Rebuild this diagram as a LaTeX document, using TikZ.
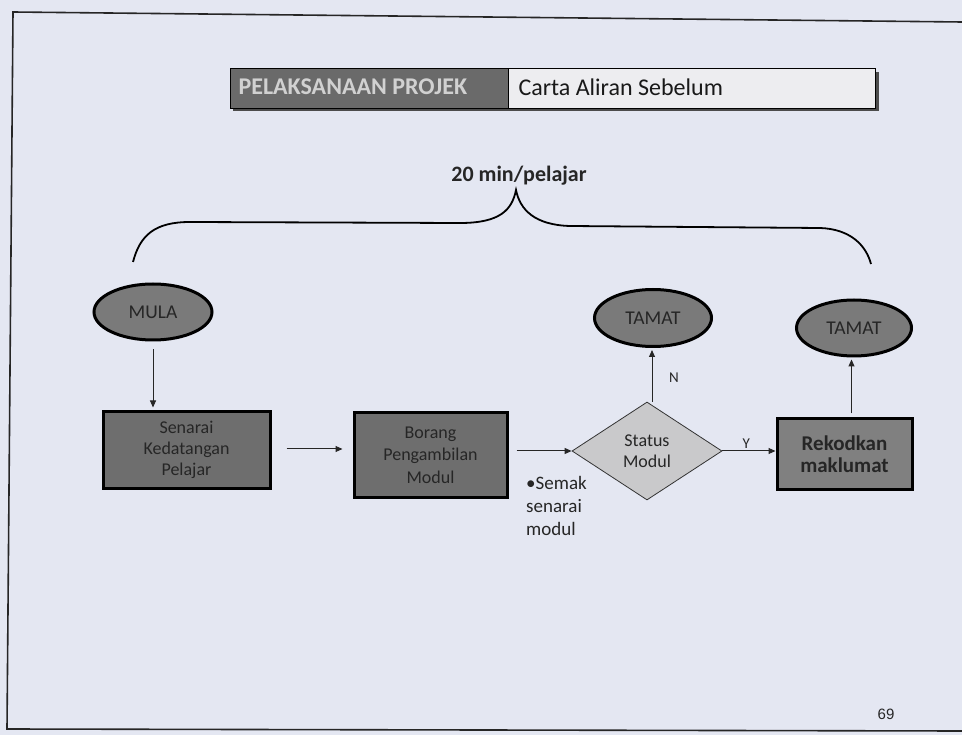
\documentclass[tikz,border=0pt]{standalone}
\usepackage{fontspec}
\setmainfont{Carlito}
\newfontfamily\arialf{Liberation Sans}
\usetikzlibrary{shapes.geometric,arrows.meta}
\definecolor{bgc}{HTML}{E4E7F2}
\definecolor{boxc}{HTML}{6E6E6E}
\definecolor{ellc}{HTML}{7A7A7A}
\definecolor{diac}{HTML}{C9C9CB}
\definecolor{rekc}{HTML}{808080}
\definecolor{txtc}{HTML}{262626}
\definecolor{titled}{HTML}{6A6A6A}
\definecolor{titlel}{HTML}{EDEDF0}
\begin{document}
\begin{tikzpicture}[x=1pt,y=-1pt,
  procbox/.style={draw=black,line width=3pt,fill=boxc,inner sep=0pt,text=txtc,align=center,font=\fontsize{18}{21}\selectfont},
  termell/.style={ellipse,draw=black,line width=3pt,fill=ellc,inner sep=0pt,text=txtc,font=\fontsize{19.5}{21}\selectfont},
  decide/.style={diamond,draw=black!80,line width=0.8pt,fill=diac,inner sep=0pt,text=txtc,align=center,font=\fontsize{18}{21}\selectfont},
  flow/.style={draw=black!85,line width=1pt,-{Triangle[length=7pt,width=6pt]}},
  lbl/.style={text=txtc,font=\fontsize{15}{17}\selectfont}
]
\useasboundingbox (0,0) rectangle (962,735);
\fill[bgc] (0,0) rectangle (962,735);
% frame
\draw[line width=1.6pt,black!85] (962,22) -- (13,12) -- (7,729) -- (962,731);
% title bar
\fill[black!70] (233,72) rectangle (879,111);
\node[draw=black,line width=1pt,fill=titled,minimum width=278pt,minimum height=40pt,inner sep=0pt,anchor=north west] (tleft) at (230,68) {};
\node[draw=black,line width=1pt,fill=titlel,minimum width=367pt,minimum height=40pt,inner sep=0pt,anchor=north west] (tright) at (508,68) {};
\node[text=white!82!black,font=\fontsize{24}{26}\selectfont\bfseries,anchor=west] (ttext1) at (235,87) {PELAKSANAAN PROJEK};
\node[text=black!90,font=\fontsize{24}{26}\selectfont,anchor=west] (ttext2) at (515,87) {Carta Aliran Sebelum};
% brace
\draw[line width=1.8pt,black] (133,262) .. controls (140,235) and (155,222) .. (190,222)
  -- (460,223) .. controls (500,223) and (512,210) .. (516,190)
  .. controls (520,210) and (535,225) .. (570,226)
  -- (820,228) .. controls (850,229) and (866,245) .. (871,264);
\node[text=txtc,font=\fontsize{22}{24}\selectfont\bfseries] (brlabel) at (519,176) {20 min/pelajar};
% nodes
\node[termell,minimum width=118pt,minimum height=56pt] (mula) at (153,312) {MULA};
\node[procbox,minimum width=167pt,minimum height=76pt] (senarai) at (186.5,450) {Senarai\\Kedatangan\\Pelajar};
\node[procbox,minimum width=153pt,minimum height=84pt,font=\fontsize{18}{22.5}\selectfont] (borang) at (430.5,455) {Borang\\Pengambilan\\Modul};
\node[decide,minimum width=150pt,minimum height=98pt] (status) at (647,451) {Status\\Modul};
\node[procbox,fill=rekc,minimum width=135pt,minimum height=70pt,font=\fontsize{21}{22.5}\selectfont\bfseries] (rekod) at (844.5,454) {Rekodkan\\maklumat};
\node[termell,minimum width=117pt,minimum height=57pt] (tamat1) at (653,318) {TAMAT};
\node[termell,minimum width=115pt,minimum height=56pt] (tamat2) at (854,328) {TAMAT};
% connectors
\coordinate (stop) at ([xshift=5pt]status.north);
\coordinate (rtop) at ([xshift=7pt]rekod.north);
\draw[flow,shorten <=8pt,shorten >=3pt] (mula.south) -- (senarai.north -| mula.south);
\draw[flow,shorten <=15pt,shorten >=10pt] (senarai.east |- 0,449) -- (borang.west |- 0,449);
\draw[flow,shorten <=8pt] (borang.east |- status.west) -- (status.west);
\draw[flow,shorten >=2pt] (stop) -- (tamat1.south -| stop);
\draw[flow] (status.east) -- node[lbl,above,pos=0.45,inner sep=2pt] (ylab) {Y} (rekod.west |- status.east);
\draw[flow,shorten <=4pt,shorten >=2pt] (rtop) -- (tamat2.south -| rtop);
\node[lbl] (nlab) at (674,378) {N};
% note
\node[text=txtc,font=\fontsize{19}{23}\selectfont,align=left,anchor=north west,inner sep=0pt] (note) at (526,476) {\textbullet Semak\\senarai\\modul};
% page number
\node[text=black!85,font=\arialf\fontsize{15}{17}\selectfont] (pnum) at (886,714) {69};
\end{tikzpicture}
\end{document}
